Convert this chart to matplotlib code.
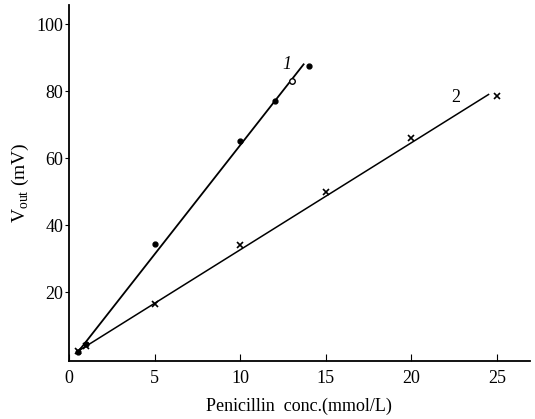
import matplotlib
matplotlib.use('Agg')
import matplotlib.pyplot as plt

plt.rcParams['font.family'] = ['Liberation Serif', 'DejaVu Serif']
plt.rcParams['mathtext.fontset'] = 'custom'
plt.rcParams['mathtext.rm'] = 'Liberation Serif'

# 曲线 1 (实心点)
conc1 = [0.5, 1, 5, 10, 12, 14]
vout1 = [2, 4.5, 34.5, 65, 77, 87.5]
# 曲线 1 空心点
conc1_open = [13]
vout1_open = [83]
# 曲线 1 拟合线端点
fit1_x = [0.5, 13.7]
fit1_y = [2.0, 88.0]

# 曲线 2 (x 标记)
conc2 = [0.5, 1, 5, 10, 15, 20, 25]
vout2 = [2.5, 4, 16.5, 34, 50, 66, 78.5]
fit2_x = [0.5, 24.5]
fit2_y = [2.3, 79.0]

xticks = [0, 5, 10, 15, 20, 25]
yticks = [20, 40, 60, 80, 100]

fig = plt.figure(figsize=(5.35, 4.19), dpi=100)
ax = fig.add_axes([0.129, 0.138, 0.861, 0.85])

# 拟合线
ax.plot(fit1_x, fit1_y, color='black', lw=1.3)
ax.plot(fit2_x, fit2_y, color='black', lw=1.1)

# 数据点
ax.plot(conc1, vout1, 'o', color='black', ms=3.5)
ax.plot(conc1_open, vout1_open, 'o', mfc='white', mec='black', ms=4, mew=1)
ax.plot(conc2, vout2, 'x', color='black', ms=4, mew=1.2)

# 曲线编号
ax.text(12.7, 88, '1', fontsize=13, style='italic', ha='center', va='center')
ax.text(22.6, 78, '2', fontsize=13, ha='center', va='center')

ax.set_xlim(0, 26.9)
ax.set_ylim(-0.6, 105.7)
ax.set_xticks(xticks)
ax.set_yticks(yticks)
ax.tick_params(axis='x', direction='in', length=5, labelsize=13, pad=6)
ax.tick_params(axis='y', direction='out', length=3, labelsize=13, pad=1)
for s in ['top', 'right']:
    ax.spines[s].set_visible(False)
for s in ['left', 'bottom']:
    ax.spines[s].set_linewidth(1.3)

ax.set_xlabel('Penicillin  conc.(mmol/L)', fontsize=13, labelpad=8)
ax.set_ylabel(r'V$_{\rm out}$ (mV)', fontsize=14, labelpad=4)

plt.savefig('out.png', dpi=100)
